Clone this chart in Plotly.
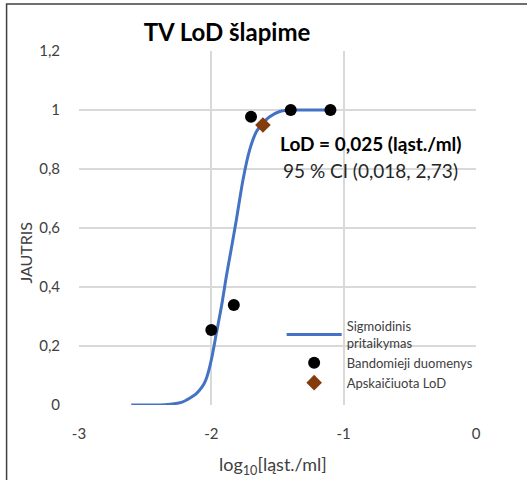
import plotly.graph_objects as go

# Experimental data (log10 concentration vs detection rate)
data_x = [-2.0, -1.83, -1.70, -1.40, -1.10]
data_y = [0.254, 0.339, 0.977, 1.0, 1.0]

# Sigmoid fit curve
fit_x = [-2.605, -2.45, -2.35, -2.28, -2.22, -2.164, -2.12, -2.088, -2.055, -2.033,
         -2.000, -1.962, -1.924, -1.887, -1.858, -1.811, -1.761, -1.711, -1.660,
         -1.622, -1.559, -1.483, -1.40, -1.333, -1.098]
fit_y = [0.0, 0.0, 0.001, 0.004, 0.010, 0.023, 0.036, 0.051, 0.072, 0.096,
         0.153, 0.243, 0.333, 0.435, 0.508, 0.627, 0.763, 0.864, 0.926,
         0.949, 0.977, 0.995, 1.0, 1.0, 1.0]

# Calculated LoD
lod_x = [-1.61]
lod_y = [0.949]

x_tickvals = [-3, -2, -1, 0]
x_ticktext = ["-3", "-2", "-1", "0"]
y_tickvals = [0, 0.2, 0.4, 0.6, 0.8, 1.0, 1.2]
y_ticktext = ["0", "0,2", "0,4", "0,6", "0,8", "1", "1,2"]

FONT = "Lato"
W, H = 527, 480
L, R, T, B = 79.4, 476.3, 51, 405

fig = go.Figure()
fig.add_trace(go.Scatter(
    x=fit_x, y=fit_y, mode="lines", name="Sigmoidinis<br>pritaikymas",
    line=dict(color="#4472C4", width=3, shape="spline", smoothing=0.8),
))
fig.add_trace(go.Scatter(
    x=data_x, y=data_y, mode="markers", name="Bandomieji duomenys",
    marker=dict(color="black", size=12, symbol="circle"),
))
fig.add_trace(go.Scatter(
    x=lod_x, y=lod_y, mode="markers", name="Apskaičiuota LoD",
    marker=dict(color="#843C0C", size=12, symbol="diamond"),
))

def px2paper_x(px):
    return (px - L) / (R - L)

def px2paper_y(py):
    return (B - py) / (B - T)

fig.update_layout(
    width=W, height=H,
    margin=dict(l=L, r=W - R, t=T, b=H - B, pad=0, autoexpand=False),
    paper_bgcolor="white", plot_bgcolor="white",
    font=dict(family=FONT, size=15, color="#404040"),
    showlegend=True,
    legend=dict(
        x=px2paper_x(282), y=px2paper_y(311), xanchor="left", yanchor="top",
        font=dict(family=FONT, size=13, color="#404040"),
        bgcolor="rgba(0,0,0,0)", itemwidth=55, tracegroupgap=0,
    ),
    xaxis=dict(
        range=[-3, 0], tickvals=x_tickvals, ticktext=x_ticktext,
        showgrid=True, gridcolor="#d9d9d9", gridwidth=1.5,
        zeroline=False, showline=False, ticks="", automargin=False,
        ticklabelstandoff=18,
        tickfont=dict(family=FONT, size=15, color="#404040"),
    ),
    yaxis=dict(
        range=[0, 1.2], tickvals=y_tickvals, ticktext=y_ticktext,
        showgrid=True, gridcolor="#d9d9d9", gridwidth=1.5,
        zeroline=False, showline=False, ticks="", automargin=False,
        ticklabelstandoff=18,
        tickfont=dict(family=FONT, size=15, color="#404040"),
    ),
    title=dict(
        text="<b>TV LoD šlapime</b>", automargin=False,
        x=227 / W, xanchor="center", xref="container",
        y=1 - 33 / H, yanchor="middle", yref="container",
        font=dict(family=FONT, size=24, color="#000000"),
    ),
    shapes=[dict(
        type="rect", xref="paper", yref="paper",
        x0=px2paper_x(7), x1=px2paper_x(700),
        y0=px2paper_y(700), y1=px2paper_y(4),
        line=dict(color="#404040", width=1.5), fillcolor="rgba(0,0,0,0)",
        layer="above",
    )],
    annotations=[
        dict(text="log<sub>10</sub>[ląst./ml]", xref="paper", yref="paper",
             x=px2paper_x(273), y=px2paper_y(465), xanchor="center", yanchor="middle",
             showarrow=False, font=dict(family=FONT, size=18, color="#404040")),
        dict(text="JAUTRIS", xref="paper", yref="paper", textangle=-90,
             x=px2paper_x(25), y=px2paper_y(253), xanchor="center", yanchor="middle",
             showarrow=False, font=dict(family=FONT, size=16, color="#404040")),
        dict(text="<b>LoD = 0,025 (ląst./ml)</b>", xref="paper", yref="paper",
             x=px2paper_x(371), y=px2paper_y(143), xanchor="center", yanchor="middle",
             showarrow=False, font=dict(family=FONT, size=19, color="#000000")),
        dict(text="95 % CI (0,018, 2,73)", xref="paper", yref="paper",
             x=px2paper_x(371), y=px2paper_y(170), xanchor="center", yanchor="middle",
             showarrow=False, font=dict(family=FONT, size=19, color="#262626")),
    ],
)

fig.write_html("out.html", config={"displayModeBar": False},
               post_script="document.body.style.margin='0';document.body.style.overflow='hidden';")
